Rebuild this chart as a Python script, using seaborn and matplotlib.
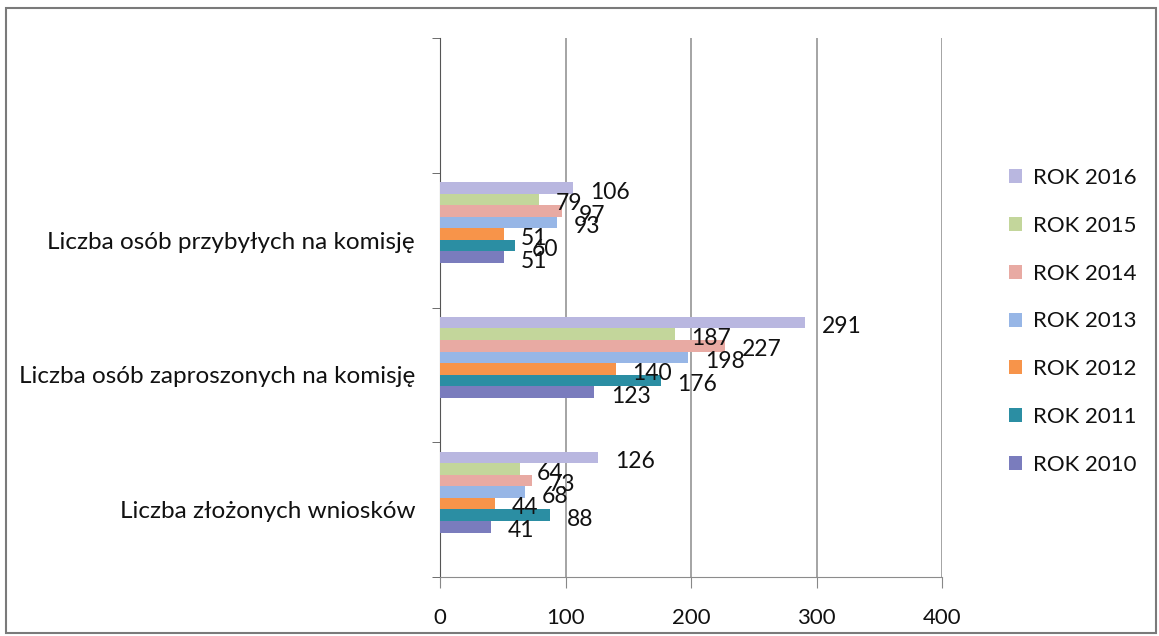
import numpy as np
import pandas as pd
import matplotlib
matplotlib.use("Agg")
import matplotlib.pyplot as plt
from matplotlib.patches import Rectangle
import seaborn as sns

# dane
kategorie = ["Liczba osób przybyłych na komisję",
             "Liczba osób zaproszonych na komisję",
             "Liczba złożonych wniosków"]
lata = ["ROK 2016", "ROK 2015", "ROK 2014", "ROK 2013", "ROK 2012", "ROK 2011", "ROK 2010"]
# wartosci w kolejnosci lat (2016 -> 2010)
przybyli = [106, 79, 97, 93, 51, 60, 51]
zaproszeni = [291, 187, 227, 198, 140, 176, 123]
wnioski = [126, 64, 73, 68, 44, 88, 41]
kolory = ["#b9b7e0", "#c3d69b", "#e8aaa3", "#97b6e6", "#f7944a", "#2b8ea3", "#7a7cbd"]
xticks = [0, 100, 200, 300, 400]

#------------------------------------------------------------
wiersze = []
for kat, wart in zip(kategorie, [przybyli, zaproszeni, wnioski]):
    for rok, v in zip(lata, wart):
        wiersze.append({"kategoria": kat, "rok": rok, "wartosc": v})
df = pd.DataFrame(wiersze)

sns.set_style("white")
plt.rcParams['font.family'] = ['Lato', 'DejaVu Sans']
kolor_txt = '#111111'

fig = plt.figure(figsize=(11.59, 6.36), dpi=100)
ax = fig.add_axes([440/1159, 1-577/636, 502/1159, 539/636])

sns.barplot(data=df, y="kategoria", x="wartosc", hue="rok", order=kategorie,
            hue_order=lata, palette=kolory, orient="h", width=0.6, gap=0,
            saturation=1, ax=ax, zorder=3, linewidth=0)

# etykiety danych
for cont in ax.containers:
    for bar in cont:
        w = bar.get_width()
        yc = bar.get_y() + bar.get_height()/2
        ax.annotate('%d' % w, (w, yc), xytext=(12, -3), textcoords='offset points',
                    ha='left', va='center', fontsize=16.5, color=kolor_txt, zorder=5)

# osie
ax.set_xlim(0, 400)
ax.set_ylim(2.63, -1.37)
ax.set_xticks(xticks)
ax.set_xticklabels([str(t) for t in xticks], fontsize=16, color=kolor_txt)
ax.set_yticks(np.arange(len(kategorie)) + 0.13)
ax.set_yticklabels(kategorie, fontsize=17.5, color=kolor_txt)
ax.set_yticks(np.arange(-1.37, 2.7, 1.0), minor=True)
ax.tick_params(axis='y', which='major', length=0, pad=18)
ax.tick_params(axis='y', which='minor', length=6, color='#555555', direction='out', left=True)
ax.tick_params(axis='x', which='major', length=8, color='#888888', direction='out', bottom=True, pad=14)
ax.set_xlabel('')
ax.set_ylabel('')

ax.grid(axis='x', color='#8c8c8c', lw=1.1, zorder=0)
ax.grid(axis='y', visible=False)
for s in ['top', 'right']:
    ax.spines[s].set_visible(False)
ax.spines['left'].set_color('#555555')
ax.spines['bottom'].set_color('#8c8c8c')

# legenda
leg = ax.legend(loc='upper left', bbox_to_anchor=(1.115, 0.775), frameon=False,
                fontsize=16, handlelength=0.6, handleheight=0.6, handletextpad=0.5,
                labelspacing=1.25, borderaxespad=0)
for t in leg.get_texts():
    t.set_color(kolor_txt)

# ramka
fig.patches.append(Rectangle((0.005, 0.005), 0.992, 0.982, transform=fig.transFigure,
                             fill=False, ec='#7a7a7a', lw=1.5))

plt.savefig('out.png', dpi=100)
